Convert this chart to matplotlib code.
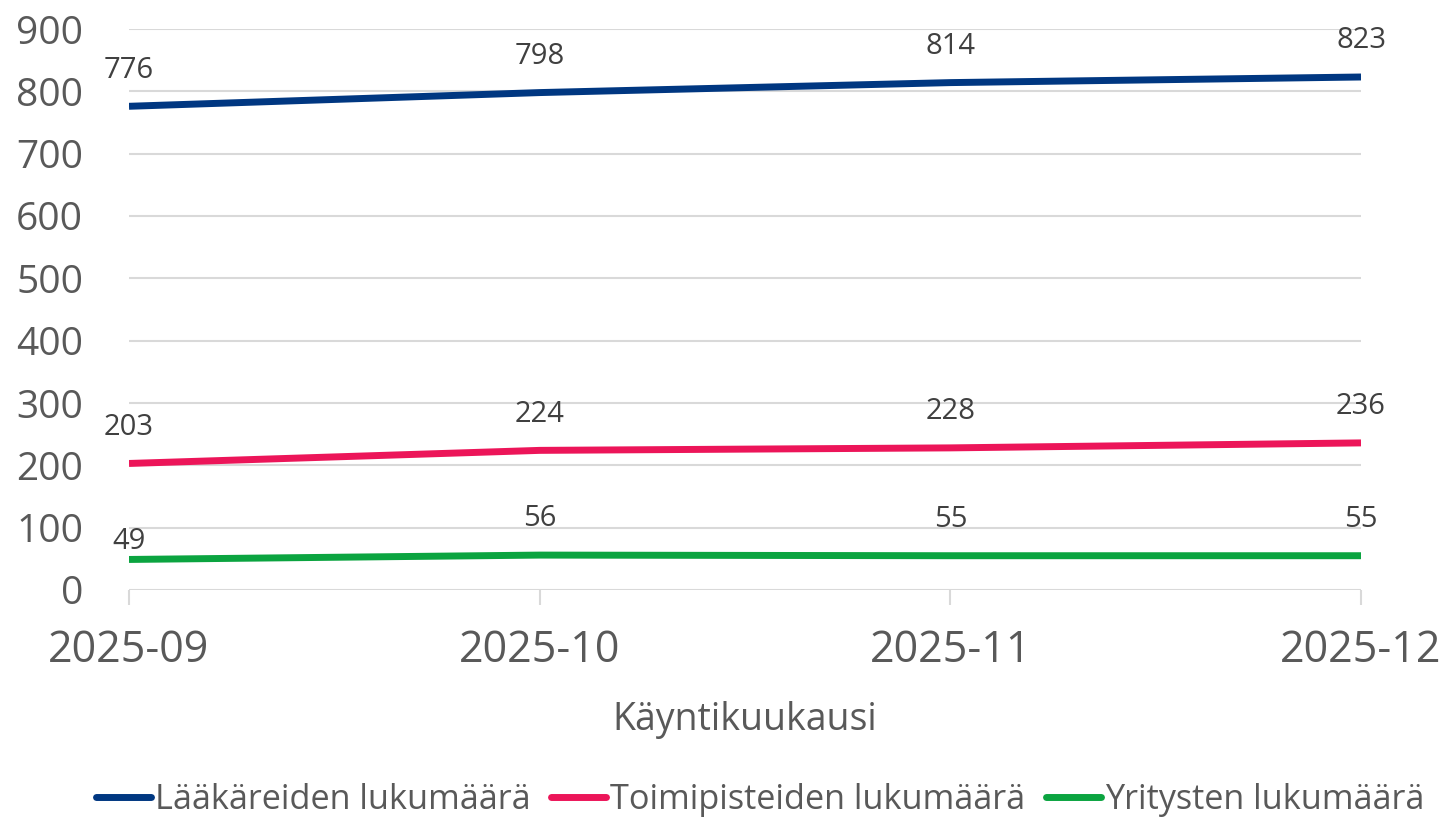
import matplotlib
matplotlib.use("Agg")
import matplotlib.pyplot as plt

categories = ["2025-09", "2025-10", "2025-11", "2025-12"]
series_names = ["Lääkäreiden lukumäärä", "Toimipisteiden lukumäärä", "Yritysten lukumäärä"]
laakarit = [776, 798, 814, 823]
toimipisteet = [203, 224, 228, 236]
yritykset = [49, 56, 55, 55]
colors = ["#003781", "#EC1559", "#0BA440"]
yticks = [0, 100, 200, 300, 400, 500, 600, 700, 800, 900]
# label offsets (points) above each point, per series
label_offsets = [[26, 26, 26, 26], [26, 26, 26, 26], [13, 26, 26, 26]]

plt.rcParams['font.family'] = ['Open Sans', 'DejaVu Sans']

fig = plt.figure(figsize=(14.45, 8.19), dpi=100)
ax = fig.add_axes([129/1445, 1-590/819, (1361-129)/1445, (590-29)/819])

x = list(range(len(categories)))
for vals, name, c, offs in zip([laakarit, toimipisteet, yritykset], series_names, colors, label_offsets):
    ax.plot(x, vals, color=c, lw=5, label=name, solid_capstyle='butt')
    for xi, v, o in zip(x, vals, offs):
        ax.annotate(str(v), (xi, v), xytext=(0, o), textcoords='offset points',
                    ha='center', va='center', fontsize=21, color='#404040')

ax.set_xlim(0, 3)
ax.set_ylim(0, 900)
ax.set_yticks(yticks)
ax.set_yticklabels([str(t) for t in yticks], fontsize=28, color='#595959')
ax.set_xticks(x)
ax.set_xticklabels(categories, fontsize=31, color='#595959')
ax.tick_params(axis='y', length=0, pad=33)
ax.tick_params(axis='x', length=11, width=1.5, color='#d9d9d9', pad=17)
ax.yaxis.grid(True, color='#d9d9d9', lw=1.5)
ax.set_axisbelow(True)
for s in ['top', 'right', 'left', 'bottom']:
    ax.spines[s].set_visible(False)
ax.set_xlabel("Käyntikuukausi", fontsize=27, color='#595959', labelpad=20)

leg = fig.legend(loc='center', bbox_to_anchor=(760/1445, 1-800/819), ncol=3, frameon=False,
                 fontsize=24.7, handlelength=1.6, handletextpad=0.12, columnspacing=0.6,
                 labelcolor='#595959')
for h in leg.get_lines():
    h.set_linewidth(5)
    h.set_solid_capstyle('round')

fig.savefig("out.png", dpi=100)
